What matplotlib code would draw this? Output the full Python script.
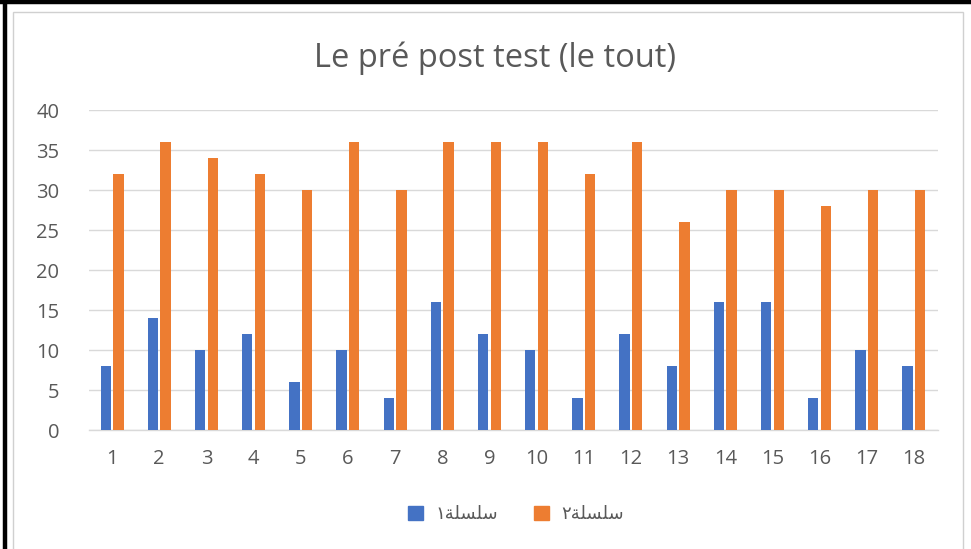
import matplotlib
matplotlib.use("Agg")
import matplotlib.pyplot as plt
import numpy as np
from matplotlib.patches import Rectangle
from matplotlib.lines import Line2D

categories = [str(i) for i in range(1, 19)]
series1 = [8, 14, 10, 12, 6, 10, 4, 16, 12, 10, 4, 12, 8, 16, 16, 4, 10, 8]
series2 = [32, 36, 34, 32, 30, 36, 30, 36, 36, 36, 32, 36, 26, 30, 30, 28, 30, 30]
# Arabic labels in visual (presentation-form) order: "سلسلة١" and "سلسلة٢"
label1 = "\u0661\uFE94\uFEE0\uFEB4\uFEE0\uFEB3"
label2 = "\u0662\uFE94\uFEE0\uFEB4\uFEE0\uFEB3"
title = "Le pré post test (le tout)"
yticks = [0, 5, 10, 15, 20, 25, 30, 35, 40]

blue = "#4472C4"
orange = "#ED7D31"
txt = "#595959"
grid = "#D9D9D9"

W, H = 971, 549
fig = plt.figure(figsize=(W / 100, H / 100), dpi=100)
fig.patch.set_facecolor("white")

# outer page border (black) and chart area border (light gray)
fig.add_artist(Line2D([0, 1], [1 - 2 / H, 1 - 2 / H], transform=fig.transFigure,
                      color="black", lw=3.2))
fig.add_artist(Line2D([5 / W, 5 / W], [0, 1], transform=fig.transFigure,
                      color="black", lw=3.2))
fig.add_artist(Rectangle((12.5 / W, -0.01), (963 - 12.5) / W, 1 - 11.5 / H + 0.01,
                         transform=fig.transFigure, fill=False,
                         edgecolor="#D0D0D0", lw=1.0))

ax = fig.add_axes([88.5 / W, 1 - 430 / H, (937.5 - 88.5) / W, 320 / H])
x = np.arange(len(categories))
w = 0.22
off = 0.135
ax.bar(x - off, series1, width=w, color=blue, zorder=3)
ax.bar(x + off, series2, width=w, color=orange, zorder=3)

ax.set_xlim(-0.5, len(categories) - 0.5)
ax.set_ylim(0, 40)
ax.set_yticks(yticks)
ax.set_yticklabels([str(t) for t in yticks])
ax.set_xticks(x)
ax.set_xticklabels(categories)
ax.yaxis.grid(True, color=grid, lw=1.0, zorder=0)
ax.set_axisbelow(True)
for s in ["top", "right", "left"]:
    ax.spines[s].set_visible(False)
ax.spines["bottom"].set_color(grid)
ax.spines["bottom"].set_linewidth(1.0)
ax.tick_params(axis="both", length=0, labelsize=14.5, colors=txt, labelfontfamily="Open Sans")
ax.tick_params(axis="x", pad=14)
ax.tick_params(axis="y", pad=21)

fig.text(495 / W, 1 - 58 / H, title, ha="center", va="center", fontsize=23.5,
         color=txt, family="Open Sans")

# legend
handles = [Rectangle((0, 0), 1, 1, color=blue), Rectangle((0, 0), 1, 1, color=orange)]
leg = fig.legend(handles, [label1, label2], loc="center", bbox_to_anchor=(516 / W, 1 - 514 / H),
                 ncol=2, frameon=False, handlelength=0.8, handleheight=0.8,
                 handletextpad=0.7, columnspacing=2.0,
                 prop={"family": ["DejaVu Sans"], "size": 13})
for t in leg.get_texts():
    t.set_color(txt)

fig.savefig("out.png", dpi=100, facecolor="white")
